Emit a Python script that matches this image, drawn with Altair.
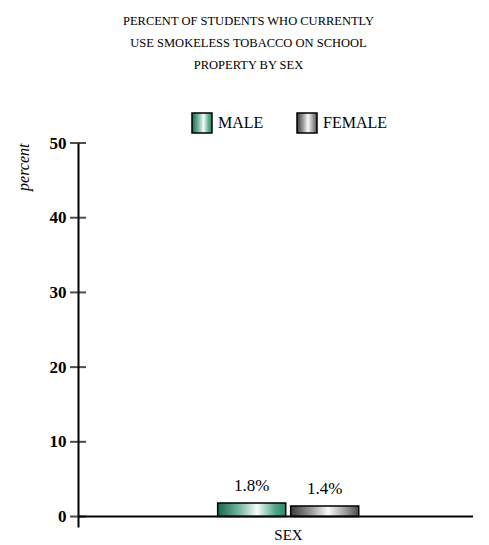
import altair as alt
import pandas as pd

# ---- data ----
sexes = ["Male", "Female"]
values = [1.8, 1.4]
value_labels = ["1.8%", "1.4%"]
tick_values = [0, 10, 20, 30, 40, 50]
title_lines = ["PERCENT OF STUDENTS WHO CURRENTLY", "USE SMOKELESS TOBACCO ON SCHOOL", "PROPERTY BY SEX"]

df = pd.DataFrame({"group": ["Sex"] * 2, "sex": sexes, "value": values, "label": value_labels})
ticks_df = pd.DataFrame({"v": tick_values})
zero_df = pd.DataFrame({"z": [0]})

FONT = "Liberation Serif"

male_grad = ("{gradient:'linear', x1:0, y1:0, x2:1, y2:0, stops:["
             "{offset:0,color:'#17684f'},{offset:0.3,color:'#6fb39b'},{offset:0.58,color:'#f6fbf9'},"
             "{offset:0.85,color:'#4fa587'},{offset:1,color:'#218a68'}]}")
female_grad = ("{gradient:'linear', x1:0, y1:0, x2:1, y2:0, stops:["
               "{offset:0,color:'#3a3a3a'},{offset:0.3,color:'#9a9a9a'},{offset:0.55,color:'#fafafa'},"
               "{offset:0.85,color:'#8a8a8a'},{offset:1,color:'#4a4a4a'}]}")

y_scale = alt.Scale(domain=[-1.4, 50], nice=False, zero=False)
x_scale = alt.Scale(paddingInner=0, paddingOuter=0.9, align=0.55)
xo_scale = alt.Scale(domain=sexes, paddingInner=0.068, paddingOuter=0)

bars = alt.Chart(df).mark_bar(stroke="black", strokeWidth=1.5).encode(
    x=alt.X("group:N", scale=x_scale,
            axis=alt.Axis(title="SEX", labels=False, ticks=False, domain=False,
                          titleFont=FONT, titleFontSize=15, titleFontWeight="normal",
                          titleColor="black", titlePadding=0, titleX=210)),
    xOffset=alt.XOffset("sex:N", sort=sexes, scale=xo_scale),
    y=alt.Y("value:Q", scale=y_scale,
            axis=alt.Axis(values=tick_values, ticks=False, grid=False,
                          domainColor="black", domainWidth=2,
                          labelFont=FONT, labelFontSize=17, labelFontWeight="bold",
                          labelColor="black", labelPadding=12,
                          title="percent", titleFont=FONT, titleFontStyle="italic",
                          titleFontWeight="normal", titleFontSize=16, titleColor="black",
                          titleAnchor="end", titlePadding=18)),
    y2=alt.datum(0),
    color=alt.Color("sex:N", sort=sexes,
                    scale=alt.Scale(domain=sexes, range=[{"expr": male_grad}, {"expr": female_grad}]),
                    legend=alt.Legend(orient="none", legendX=113, legendY=-31,
                                      direction="horizontal", title=None,
                                      symbolType="square", symbolSize=400,
                                      symbolStrokeColor="black", symbolStrokeWidth=1.5,
                                      symbolOpacity=1,
                                      labelFont=FONT, labelFontSize=16, labelColor="black",
                                      labelExpr="upper(datum.label)",
                                      columnPadding=30, labelOffset=5)),
)

texts = alt.Chart(df).mark_text(font=FONT, fontSize=17, dy=-8, baseline="bottom", color="black").encode(
    x=alt.X("group:N", scale=x_scale),
    xOffset=alt.XOffset("sex:N", sort=sexes, scale=xo_scale),
    y=alt.Y("value:Q", scale=y_scale),
    text="label:N",
)

ticks = alt.Chart(ticks_df).mark_tick(color="black", thickness=2, size=16).encode(
    y=alt.Y("v:Q", scale=y_scale),
    x=alt.value(0),
)

zero_line = alt.Chart(zero_df).mark_rule(color="black", strokeWidth=2).encode(
    y=alt.Y("z:Q", scale=y_scale),
)

chart = alt.layer(bars, texts, zero_line, ticks).properties(
    width=395, height=384,
    title=alt.TitleParams(text=title_lines, font=FONT, fontSize=12.5, fontWeight="normal",
                          color="black", lineHeight=22, anchor="middle", dx=-27, offset=41),
    padding={"left": 78, "top": 143, "right": 16, "bottom": 18},
    autosize=alt.AutoSizeParams(type="none"),
).configure(background="white").configure_view(stroke=None, strokeWidth=0)

chart.save("out.html", embed_options={"renderer": "svg", "actions": False})
